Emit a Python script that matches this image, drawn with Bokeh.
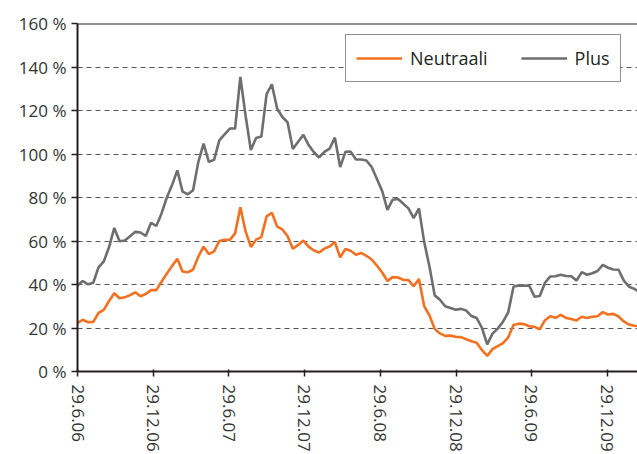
from datetime import datetime, timedelta
import pandas as pd
from bokeh.plotting import figure
from bokeh.models import (Range1d, FixedTicker, PrintfTickFormatter, Span,
                          Legend, LegendItem)
from bokeh.embed import file_html
from bokeh.resources import INLINE

# ---------------- data (~12.7-day sampling) ----------------
start_date = "2006-06-29"
last_sample = "2010-03-17"
end_date = "2010-03-12"

neutraali = [22.3, 23.8, 22.7, 22.8, 26.9, 28.3, 32.4, 36.0, 33.7, 34.1,
             35.1, 36.4, 34.6, 35.6, 37.4, 37.4, 41.3, 45.0, 48.5, 51.8,
             46.0, 45.6, 46.9, 52.8, 57.4, 54.0, 55.2, 60.0, 60.6, 60.5,
             63.5, 75.5, 64.4, 57.3, 60.6, 61.8, 71.3, 73.0, 66.6, 65.3,
             62.2, 56.4, 58.2, 60.2, 57.4, 55.6, 54.7, 56.5, 57.5, 59.5,
             52.5, 56.3, 55.5, 53.7, 54.5, 53.2, 51.5, 48.7, 45.5, 41.6,
             43.4, 43.2, 42.2, 42.0, 39.2, 42.5, 30.0, 25.8, 19.6, 17.5,
             16.4, 16.5, 16.0, 15.8, 14.8, 13.9, 13.2, 9.8, 7.2, 10.3,
             11.7, 13.0, 15.7, 21.4, 22.0, 21.8, 20.8, 20.5, 19.4, 23.6,
             25.4, 24.7, 26.0, 24.6, 24.1, 23.5, 25.2, 24.6, 25.2, 25.4,
             27.3, 26.2, 26.5, 25.3, 23.0, 21.6, 21.0, 20.8]

plus = [39.5, 41.6, 40.1, 40.8, 47.9, 50.6, 57.1, 66.0, 59.9, 60.2,
        62.2, 64.2, 63.9, 62.3, 68.4, 66.9, 72.7, 80.0, 85.7, 92.5,
        82.7, 81.5, 83.3, 96.3, 104.8, 96.4, 97.3, 106.3, 109.0, 111.7,
        111.7, 135.4, 117.6, 101.8, 107.4, 108.0, 127.5, 132.0, 120.9, 117.0,
        114.5, 102.3, 105.6, 108.8, 104.1, 100.8, 98.4, 101.0, 102.5, 107.5,
        94.0, 101.0, 101.1, 97.5, 97.5, 97.0, 94.0, 88.5, 83.0, 74.3,
        79.0, 79.3, 77.2, 75.0, 70.5, 75.0, 59.5, 48.3, 35.0, 33.0,
        30.0, 29.2, 28.4, 28.8, 28.0, 25.5, 24.6, 20.0, 12.5, 17.4,
        19.7, 22.9, 27.2, 39.0, 39.6, 39.5, 39.4, 34.4, 34.7, 40.8,
        43.7, 43.8, 44.5, 43.9, 43.8, 41.8, 45.7, 44.5, 45.2, 46.2,
        49.0, 47.7, 46.9, 46.8, 41.8, 39.0, 38.0, 36.6]

dates = pd.date_range(start_date, last_sample, periods=len(plus))

tick_dates = ["2006-06-29", "2006-12-29", "2007-06-29", "2007-12-29",
              "2008-06-29", "2008-12-29", "2009-06-29", "2009-12-29"]
tick_labels = ["29.6.06", "29.12.06", "29.6.07", "29.12.07",
               "29.6.08", "29.12.08", "29.6.09", "29.12.09"]
y_ticks = [0, 20, 40, 60, 80, 100, 120, 140, 160]
grid_ticks = [20, 40, 60, 80, 100, 120, 140]

series_names = ["Neutraali", "Plus"]
ORANGE = "#f37021"
GRAY = "#6d6e71"
DARK = "#231f20"
FONT = "Open Sans"

# ---------------- figure ----------------
p = figure(width=637, height=454, x_axis_type="datetime",
           output_backend="svg", toolbar_location=None,
           x_range=Range1d(pd.Timestamp(start_date).to_pydatetime(),
                           pd.Timestamp(end_date).to_pydatetime()),
           y_range=Range1d(0, 160),
           min_border_left=77, min_border_top=23, min_border_right=0,
           min_border_bottom=82)
p.outline_line_color = None
p.background_fill_color = "white"
p.border_fill_color = "white"

r1 = p.line(dates, neutraali, line_color=ORANGE, line_width=2.6)
r2 = p.line(dates, plus, line_color=GRAY, line_width=2.6)

# y axis
p.yaxis.ticker = FixedTicker(ticks=y_ticks)
p.yaxis.formatter = PrintfTickFormatter(format="%d %%")
p.yaxis.major_label_text_font = FONT
p.yaxis.major_label_text_font_size = "17px"
p.yaxis.major_label_text_color = "#333333"
p.yaxis.axis_line_color = DARK
p.yaxis.axis_line_width = 2
p.yaxis.major_tick_line_color = DARK
p.yaxis.major_tick_line_width = 1.5
p.yaxis.major_tick_out = 6
p.yaxis.major_tick_in = 0
p.yaxis.minor_tick_line_color = None
p.yaxis.major_label_standoff = 5

# x axis
tick_ms = [int(pd.Timestamp(d).timestamp() * 1000) for d in tick_dates]
p.xaxis.ticker = FixedTicker(ticks=tick_ms)
p.xaxis.major_label_overrides = dict(zip(tick_ms, tick_labels))
p.xaxis.major_label_orientation = "vertical"
p.xaxis.major_label_text_font = FONT
p.xaxis.major_label_text_font_size = "17px"
p.xaxis.major_label_text_color = "#333333"
p.xaxis.axis_line_color = DARK
p.xaxis.axis_line_width = 2
p.xaxis.major_tick_line_color = DARK
p.xaxis.major_tick_line_width = 1.5
p.xaxis.major_tick_out = 5
p.xaxis.major_tick_in = 2
p.xaxis.minor_tick_line_color = None
p.xaxis.major_label_standoff = 8

# grid
p.xgrid.visible = False
p.ygrid.ticker = FixedTicker(ticks=grid_ticks)
p.ygrid.grid_line_color = "#555555"
p.ygrid.grid_line_dash = "5 4"
p.ygrid.grid_line_width = 1.2

# top border
p.add_layout(Span(location=160, dimension="width", line_color=DARK, line_width=2))

# legend
legend = Legend(items=[LegendItem(label=series_names[0], renderers=[r1]),
                       LegendItem(label=series_names[1], renderers=[r2])],
                location=(268, 289), orientation="horizontal",
                padding=10, spacing=33, glyph_width=46, glyph_height=26,
                label_height=26, label_standoff=8, margin=0,
                label_text_font=FONT, label_text_font_size="18px",
                label_text_color="#231f20",
                border_line_color=DARK, border_line_width=1,
                background_fill_color="white", background_fill_alpha=1)
p.add_layout(legend)

open("out.html", "w").write(file_html(p, INLINE))
